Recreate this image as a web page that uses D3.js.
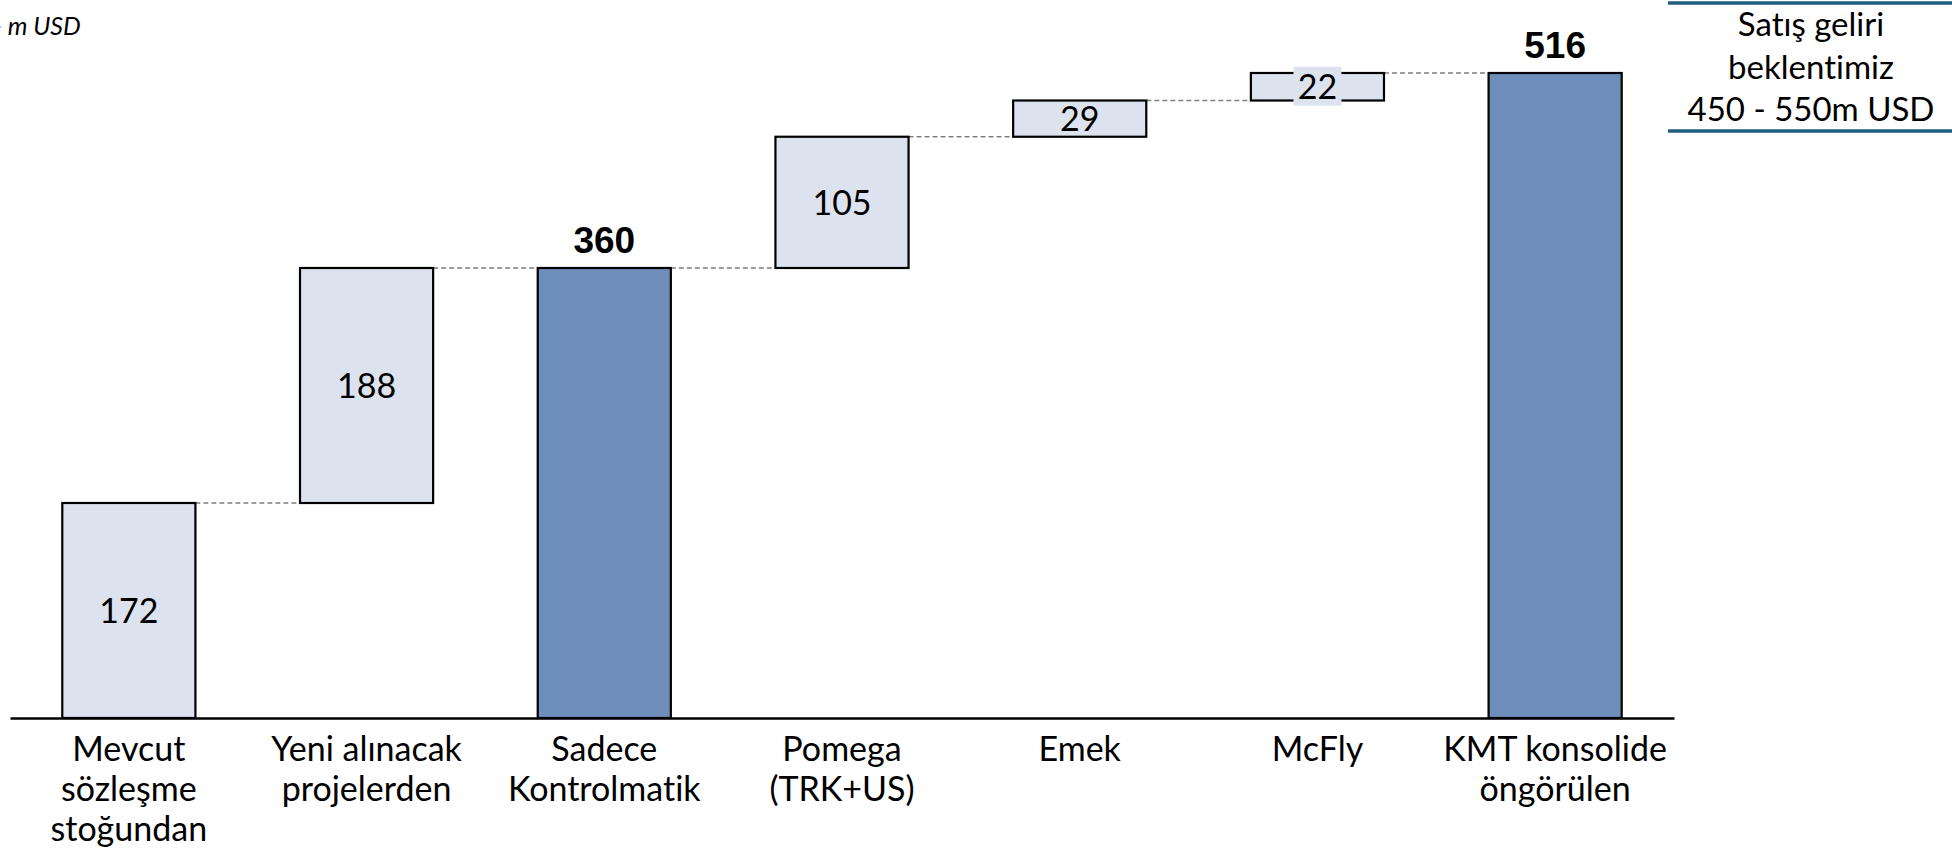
<!DOCTYPE html>
<html lang="tr">
<head>
<meta charset="utf-8">
<title>KMT satış geliri</title>
<script src="https://d3js.org/d3.v7.min.js"></script>
<style>
  body { margin: 0; background: #fff; }
  svg { display: block; }
  text { font-variant-ligatures: none; }
  .cat { font-family: Lato, "Open Sans", sans-serif; font-size: 34px; fill: #000; }
  .val { font-family: Lato, "Open Sans", sans-serif; font-size: 34px; fill: #000; }
  .tot { font-family: "Liberation Sans", Arial, sans-serif; font-size: 37px; font-weight: bold; fill: #000; }
  .unit { font-family: Lato, sans-serif; font-size: 25px; font-style: italic; fill: #000; }
  .note { font-family: Lato, sans-serif; font-size: 33px; fill: #000; }
</style>
</head>
<body>
<svg width="1952" height="854"></svg>
<script>
// chart data
const categories = ["Mevcut", "Yeni", "Sadece", "Pomega", "Emek", "McFly", "KMT"];
const labelLines = [
  ["Mevcut", "sözleşme", "stoğundan"],
  ["Yeni alınacak", "projelerden"],
  ["Sadece", "Kontrolmatik"],
  ["Pomega", "(TRK+US)"],
  ["Emek"],
  ["McFly"],
  ["KMT konsolide", "öngörülen"]
];
const values = [172, 188, 360, 105, 29, 22, 516];
const kinds = ["delta", "delta", "total", "delta", "delta", "delta", "total"];
const noteLines = ["Satış geliri", "beklentimiz", "450 - 550m USD"];

const svg = d3.select("svg");

// waterfall start / end
let run = 0;
const bars = values.map((v, i) => {
  let s, e;
  if (kinds[i] === "total") { s = 0; e = v; run = v; }
  else { s = run; e = run + v; run = e; }
  return {cat: categories[i], v: v, kind: kinds[i], s: s, e: e, lines: labelLines[i]};
});

const x = d3.scaleBand()
  .domain(categories)
  .range([10, 1674])
  .paddingInner(0.44)
  .paddingOuter(0.22);

const y = d3.scaleLinear()
  .domain([0, 516])
  .range([718, 73]);

// connectors
svg.append("g").selectAll("line")
  .data(bars.slice(0, -1))
  .join("line")
  .attr("x1", d => x(d.cat) + x.bandwidth())
  .attr("x2", (d, i) => x(categories[i + 1]))
  .attr("y1", d => y(d.e))
  .attr("y2", d => y(d.e))
  .attr("stroke", "#7f7f7f")
  .attr("stroke-width", 1.5)
  .attr("stroke-dasharray", "5,3");

// bars
svg.append("g").selectAll("rect")
  .data(bars)
  .join("rect")
  .attr("x", d => x(d.cat))
  .attr("width", x.bandwidth())
  .attr("y", d => y(d.e))
  .attr("height", d => y(d.s) - y(d.e))
  .attr("fill", d => d.kind === "total" ? "#6d8dba" : "#dde3ee")
  .attr("stroke", "#000")
  .attr("stroke-width", 2.2);

// axis line
svg.append("g")
  .attr("transform", "translate(0," + y(0) + ")")
  .call(d3.axisBottom(x).tickSize(0).tickFormat(""))
  .call(g => g.select(".domain").attr("stroke", "#000").attr("stroke-width", 2.5));

// delta labels (inside)
const deltas = bars.filter(d => d.kind === "delta");
const dl = svg.append("g").selectAll("g")
  .data(deltas)
  .join("g")
  .attr("transform", d => "translate(" + (x(d.cat) + x.bandwidth() / 2) + "," + ((y(d.s) + y(d.e)) / 2) + ")");

dl.filter(d => y(d.s) - y(d.e) < 30)
  .append("rect")
  .attr("x", -24).attr("y", -20)
  .attr("width", 48).attr("height", 39)
  .attr("fill", "#dde3ee");

dl.append("text")
  .attr("class", "val")
  .attr("text-anchor", "middle")
  .attr("dy", "0.36em")
  .text(d => d.v);

// total labels (above)
svg.append("g").selectAll("text")
  .data(bars.filter(d => d.kind === "total"))
  .join("text")
  .attr("class", "tot")
  .attr("text-anchor", "middle")
  .attr("x", d => x(d.cat) + x.bandwidth() / 2)
  .attr("y", d => y(d.e) - 15)
  .text(d => d.v);

// category labels
svg.append("g").selectAll("text")
  .data(bars)
  .join("text")
  .attr("class", "cat")
  .attr("text-anchor", "middle")
  .attr("x", d => x(d.cat) + x.bandwidth() / 2)
  .attr("y", 761)
  .selectAll("tspan")
  .data(d => d.lines.map(l => ({l: l, cx: x(d.cat) + x.bandwidth() / 2})))
  .join("tspan")
  .attr("x", d => d.cx)
  .attr("dy", (d, i) => i === 0 ? 0 : 40)
  .text(d => d.l);

// unit text (cut off at left edge, as in the source slide)
svg.append("text")
  .attr("class", "unit")
  .attr("x", -7)
  .attr("y", 35)
  .text("- m USD");

// note box at top right
svg.append("line")
  .attr("x1", 1668).attr("x2", 1952).attr("y1", 3).attr("y2", 3)
  .attr("stroke", "#1f5f80").attr("stroke-width", 3.5);
svg.append("line")
  .attr("x1", 1668).attr("x2", 1952).attr("y1", 131).attr("y2", 131)
  .attr("stroke", "#1f5f80").attr("stroke-width", 3.5);
svg.append("text")
  .attr("class", "note")
  .attr("text-anchor", "middle")
  .selectAll("tspan")
  .data(noteLines)
  .join("tspan")
  .attr("x", 1811)
  .attr("y", (d, i) => 36 + i * 42.5)
  .text(d => d);
</script>
</body>
</html>
